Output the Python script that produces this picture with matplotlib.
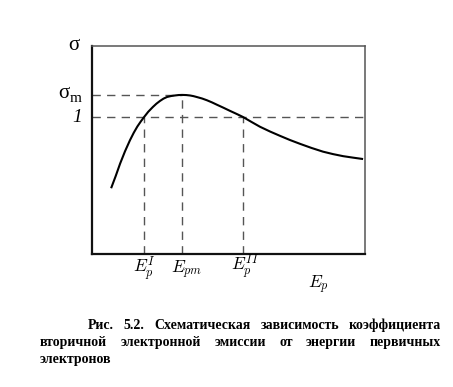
import matplotlib
matplotlib.use("Agg")
import matplotlib.pyplot as plt

# curve of sigma vs primary energy (arbitrary units, 1 = unity level)
energy = [0.70, 0.87, 1.03, 1.21, 1.39, 1.53, 1.66, 1.79, 1.91, 2.06, 2.23,
          2.36, 2.49, 2.62, 2.75, 2.90, 3.04, 3.17, 3.30, 3.45, 3.59, 3.72,
          3.85, 4.03, 4.21, 4.40, 4.58, 4.82, 5.05, 5.29, 5.53, 5.84, 6.15,
          6.52, 6.89, 7.25, 7.62, 8.04, 8.46, 8.83, 9.20, 9.57, 9.93]
sigma = [0.48, 0.57, 0.66, 0.75, 0.83, 0.885, 0.93, 0.968, 1.00, 1.038, 1.073,
         1.097, 1.117, 1.134, 1.146, 1.153, 1.157, 1.160, 1.161, 1.160, 1.157, 1.152,
         1.145, 1.135, 1.122, 1.106, 1.089, 1.067, 1.045, 1.023, 1.00, 0.964, 0.929,
         0.894, 0.862, 0.832, 0.804, 0.774, 0.747, 0.729, 0.714, 0.703, 0.693]

sigma_max = 1.161
unity = 1.0
e_first = 1.91   # E_p^I
e_max = 3.30     # E_pm
e_second = 5.53  # E_p^II

caption_lines = [
    "Рис. 5.2. Схематическая зависимость коэффициента",
    "вторичной электронной эмиссии от энергии первичных",
    "электронов",
]

W, H = 453, 387
fig = plt.figure(figsize=(W / 100, H / 100), dpi=100)

ax = fig.add_axes([92 / W, 1 - 254 / H, 273 / W, 208 / H])
ax.set_xlim(0, 10)
ax.set_ylim(0, 1.518)
ax.set_xticks([])
ax.set_yticks([])
for s in ["left", "bottom"]:
    ax.spines[s].set_linewidth(1.6)
    ax.spines[s].set_color("#111111")
for s in ["top", "right"]:
    ax.spines[s].set_linewidth(1.1)
    ax.spines[s].set_color("#555555")

dash = dict(color="#555555", lw=1.0, linestyle=(0, (6, 4.5)))
ax.plot([0, e_max], [sigma_max, sigma_max], **dash)
ax.plot([0, 10], [unity, unity], **dash)
ax.plot([e_first, e_first], [0, unity], **dash)
ax.plot([e_max, e_max], [0, sigma_max], **dash)
ax.plot([e_second, e_second], [0, unity], **dash)

ax.plot(energy, sigma, color="black", lw=1.5, solid_capstyle="butt",
        solid_joinstyle="round")


def px(x, y):
    return x / W, 1 - y / H


serif = "Liberation Serif"
fig.text(*px(74, 45), "σ", fontsize=15, family=serif, ha="center", va="center")
fig.text(*px(64, 94), "σ", fontsize=15, family=serif, ha="center", va="center")
fig.text(*px(76, 98), "m", fontsize=11, family=serif, ha="center", va="center")
fig.text(*px(77, 117), "1", fontsize=14, family=serif, style="italic",
         ha="center", va="center")

labels = [(144, 268, r"$E_p^I$"), (187, 270, r"$E_{pm}$"),
          (245, 266, r"$E_p^{II}$"), (318, 285, r"$E_p$")]
for x, y, t in labels:
    fig.text(*px(x, y), t, fontsize=12.5, math_fontfamily="cm",
             ha="center", va="center")

# justified caption
cap_font = dict(fontsize=10, family=serif, weight="bold")
renderer = fig.canvas.get_renderer()
starts = [88, 40, 40]
baselines = [329, 346, 363]
right = 441
for i, line in enumerate(caption_lines):
    words = line.split(" ")
    x0 = starts[i]
    if i == len(caption_lines) - 1:
        fig.text(*px(x0, baselines[i]), line, ha="left", va="baseline", **cap_font)
        continue
    texts = [fig.text(*px(0, baselines[i]), w, ha="left", va="baseline", **cap_font)
             for w in words]
    widths = [t.get_window_extent(renderer).width for t in texts]
    gap = (right - x0 - sum(widths)) / (len(words) - 1)
    x = x0
    for t, w in zip(texts, widths):
        t.set_position(px(x, baselines[i]))
        x += w + gap

fig.savefig("out.png", dpi=100)
